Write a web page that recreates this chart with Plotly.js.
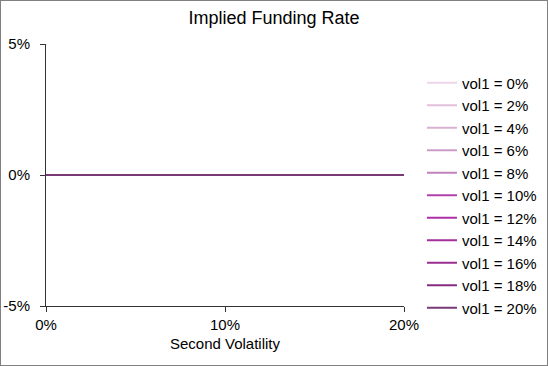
<!DOCTYPE html>
<html>
<head>
<meta charset="utf-8">
<script src="https://cdn.plot.ly/plotly-3.0.1.min.js"></script>
<style>
  body { margin: 0; }
  #wrap { position: relative; width: 548px; height: 366px; }
  #frame { position: absolute; left: 0; top: 0; width: 546px; height: 364px; border: 1px solid #808080; pointer-events: none; }
</style>
</head>
<body>
<div id="wrap">
  <div id="chart" style="width:548px;height:366px;"></div>
  <div id="frame"></div>
</div>
<script>
const secondVol = [0, 0.02, 0.04, 0.06, 0.08, 0.10, 0.12, 0.14, 0.16, 0.18, 0.20];
const vol1Labels = ["0%", "2%", "4%", "6%", "8%", "10%", "12%", "14%", "16%", "18%", "20%"];
const fundingRate = [0, 0, 0, 0, 0, 0, 0, 0, 0, 0, 0];
const lineColors = ["#ecd6e8", "#e2c0dc", "#d8b0d2", "#cc9cc8", "#c282bc", "#b240aa",
                    "#ae30a6", "#a23098", "#982e90", "#882a82", "#7a3a78"];

const traces = vol1Labels.map((lab, i) => ({
    x: secondVol,
    y: fundingRate,
    type: "scatter",
    mode: "lines",
    name: "vol1 = " + lab,
    line: { color: lineColors[i], width: 2 },
    hovertemplate: "%{x:.0%}: %{y:.2%}<extra>vol1 = " + lab + "</extra>"
}));

const fontFam = "Liberation Sans, Arial, sans-serif";
const axisFont = { family: fontFam, size: 15, color: "#000" };

Plotly.newPlot("chart", traces, {
    width: 548,
    height: 366,
    paper_bgcolor: "#fff",
    plot_bgcolor: "#fff",
    font: axisFont,
    title: { text: "Implied Funding Rate", x: 0.5, xref: "container", xanchor: "center",
             y: 0.951, yref: "container", yanchor: "middle",
             font: { family: fontFam, size: 18, color: "#000" } },
    margin: { l: 46, r: 144, t: 44, b: 60 },
    xaxis: {
        range: [0, 0.2], tickvals: [0, 0.1, 0.2], ticktext: ["0%", "10%", "20%"],
        showgrid: false, zeroline: false, showline: true, linecolor: "#333", linewidth: 1,
        ticks: "outside", ticklen: 5, tickcolor: "#333", automargin: false,
        title: { text: "Second Volatility", font: axisFont, standoff: 6 }
    },
    yaxis: {
        range: [-0.05, 0.05], tickvals: [-0.05, 0, 0.05], ticktext: ["-5%", "0%", "5%"],
        showgrid: false, zeroline: false, showline: true, linecolor: "#333", linewidth: 1,
        ticks: "outside", ticklen: 5, tickcolor: "#333", automargin: false,
        ticklabelstandoff: 7
    },
    legend: {
        xref: "container", yref: "container",
        x: 0.770, xanchor: "left", y: 0.818, yanchor: "top",
        maxheight: 330,
        font: axisFont, itemwidth: 30, traceorder: "normal"
    },
    showlegend: true
}, { displayModeBar: false, responsive: false });
</script>
</body>
</html>
